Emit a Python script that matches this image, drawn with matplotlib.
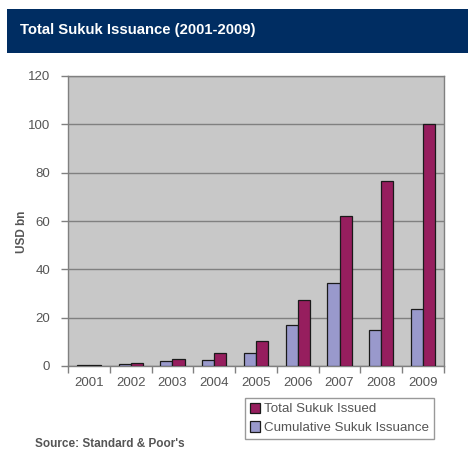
import matplotlib
matplotlib.use("Agg")
import matplotlib.pyplot as plt
from matplotlib.patches import Rectangle
import numpy as np

years = ["2001", "2002", "2003", "2004", "2005", "2006", "2007", "2008", "2009"]
total_issued = [0.4, 1.4, 3.0, 5.4, 10.5, 27.4, 61.9, 76.6, 100.0]
cumulative = [0.4, 1.0, 2.0, 2.4, 5.4, 16.9, 34.3, 15.0, 23.5]
yticks = [0, 20, 40, 60, 80, 100, 120]

plt.rcParams['font.family'] = ['Liberation Sans', 'DejaVu Sans']

fig = plt.figure(figsize=(4.68, 4.5), dpi=100)
fig.patch.set_facecolor("white")

# Title bar
fig.patches.append(Rectangle((7/468, 1-53/450), 461/468, 44/450, transform=fig.transFigure,
                             facecolor="#002D62", edgecolor="none", zorder=0))
fig.text(20/468, 1-30/450, "Total Sukuk Issuance (2001-2009)", color="white",
         fontsize=10.7, fontweight="bold", va="center", ha="left")

ax = fig.add_axes([68/468, 1-366/450, 376/468, 290/450])
ax.set_facecolor("#C8C8C8")
x = np.arange(len(years))
w = 0.29
ax.bar(x - w/2, cumulative, w, color="#9999CC", edgecolor="#1a1a1a", linewidth=0.9,
       label="Cumulative Sukuk Issuance", zorder=3)
ax.bar(x + w/2, total_issued, w, color="#961E5E", edgecolor="#1a1a1a", linewidth=0.9,
       label="Total Sukuk Issued", zorder=3)

ax.set_xlim(-0.5, len(years) - 0.5)
ax.set_ylim(0, 120)
ax.set_yticks(yticks)
ax.set_yticklabels([str(t) for t in yticks])
ax.yaxis.grid(True, color="#808080", linewidth=1.0, zorder=1)
ax.set_axisbelow(True)
ax.set_xticks(x)
ax.set_xticklabels(years)
ax.set_xticks(np.arange(-0.5, len(years)), minor=True)
ax.tick_params(axis="x", which="major", length=0, colors="#555555", labelsize=9.5, pad=8)
ax.tick_params(axis="x", which="minor", length=5, color="#808080", width=1)
ax.tick_params(axis="y", length=5, color="#808080", width=1, labelcolor="#555555",
               labelsize=9.5, pad=8)
for s in ax.spines.values():
    s.set_color("#808080")
    s.set_linewidth(1.0)

fig.text(22/468, 1-232/450, "USD bn", color="#555555", fontsize=8.5, fontweight="bold",
         rotation=90, ha="center", va="center")

handles, labels = ax.get_legend_handles_labels()
leg = fig.legend(handles[::-1], labels[::-1], loc="upper left",
                 bbox_to_anchor=(245/468, 1-398/450), frameon=True, fancybox=False,
                 edgecolor="#808080", fontsize=9.6, handlelength=0.8, handleheight=0.8,
                 handletextpad=0.3, borderpad=0.35, labelspacing=0.45, borderaxespad=0)
for t in leg.get_texts():
    t.set_color("#555555")
leg.get_frame().set_linewidth(1.0)

fig.text(35/468, 1-438/450, "Source: Standard & Poor's", color="#555555",
         fontsize=8.5, fontweight="bold", va="top", ha="left")

fig.savefig("out.png", dpi=100)
